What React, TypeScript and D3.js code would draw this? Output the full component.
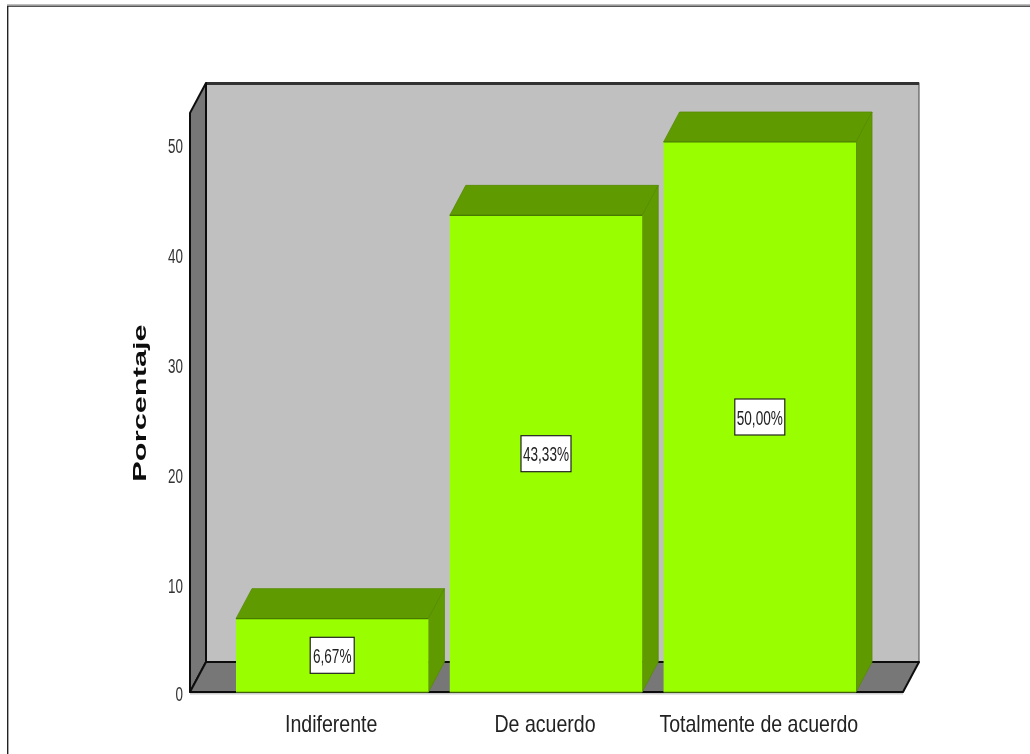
import React from "react";
import * as d3 from "d3";

const categories = ["Indiferente", "De acuerdo", "Totalmente de acuerdo"];
const percentages = [6.67, 43.33, 50.0];
const valueLabels = ["6,67%", "43,33%", "50,00%"];
const yTicks = [0, 10, 20, 30, 40, 50];
const yTickOffsets = [9, 11, 11, 11, 11, 11];

const W = 1030, H = 754;
const DX = 16, DY = 30;
const FONT = "'Liberation Sans', Arial, sans-serif";

const y = d3.scaleLinear().domain([0, 50]).range([692, 142]);
const x = d3.scaleBand<string>().domain(categories).range([236, 856]).paddingInner(0.1);
const poly = d3.line<[number, number]>().curve(d3.curveLinearClosed);

function Squeezed({ x: tx, y: ty, size, sx, anchor, weight, fill = "#222", children }: any) {
  return (
    <text
      transform={`translate(${tx},${ty}) scale(${sx},1)`}
      textAnchor={anchor}
      fontFamily={FONT}
      fontSize={size}
      fontWeight={weight}
      fill={fill}
    >
      {children}
    </text>
  );
}

export default function App() {
  const left = 190, right = 903, top = 113, base = y(0);
  return (
    <svg
      width={W}
      height={H}
      viewBox={`0 0 ${W} ${H}`}
      style={{ position: "absolute", left: 0, top: 0, background: "#fff" }}
    >
      <defs>
        <filter id="soft" x="0" y="0" width="100%" height="100%">
          <feGaussianBlur stdDeviation="0.45" />
        </filter>
      </defs>
      <g filter="url(#soft)">
        {/* outer frame */}
        <rect x={7} y={4} width={W - 7} height={1.5} fill="#bdbdbd" />
        <rect x={7} y={5.5} width={W - 7} height={1.5} fill="#555" />
        <rect x={7} y={6} width={1.4} height={H - 6} fill="#222" />

        {/* back wall */}
        <rect x={left + DX} y={top - DY} width={right - left} height={base - top} fill="#c0c0c0" stroke="#444" strokeWidth={1} />
        <rect x={left + DX} y={top - DY - 1} width={right - left} height={3} fill="#333" />
        {/* side wall */}
        <path
          d={poly([[left, top], [left + DX, top - DY], [left + DX, base - DY], [left, base]])!}
          fill="#777"
          stroke="#111"
          strokeWidth={2}
          strokeLinejoin="round"
        />
        {/* floor */}
        <path
          d={poly([[left, base], [left + DX, base - DY], [right + DX, base - DY], [right, base]])!}
          fill="#777"
          stroke="#111"
          strokeWidth={2}
          strokeLinejoin="round"
        />
        <rect x={left} y={base + 1} width={right - left} height={1.5} fill="#ccc" />

        {/* tick labels */}
        {yTicks.map((t, i) => (
          <Squeezed key={t} x={183} y={y(t) + yTickOffsets[i]} size={21} sx={0.64} anchor="end" fill="#333">
            {t}
          </Squeezed>
        ))}

        {/* bars */}
        {categories.map((c, i) => {
          const x0 = x(c)!;
          const x1 = x0 + x.bandwidth();
          const yt = y(percentages[i]);
          return (
            <g key={c}>
              <path
                d={poly([[x0, yt], [x0 + DX, yt - DY], [x1 + DX, yt - DY], [x1, yt]])!}
                fill="#5f9b00"
                stroke="#558c00"
                strokeWidth={0.8}
              />
              <path
                d={poly([[x1, yt], [x1 + DX, yt - DY], [x1 + DX, base - DY], [x1, base]])!}
                fill="#5f9b00"
                stroke="#558c00"
                strokeWidth={0.8}
              />
              <rect x={x0} y={yt} width={x.bandwidth()} height={base - yt} fill="#99ff00" />
              <line x1={x0} x2={x1} y1={yt} y2={yt} stroke="#4a7a00" strokeWidth={1.2} />
              <line x1={x0} x2={x1} y1={base} y2={base} stroke="#6fb000" strokeWidth={1.2} />
            </g>
          );
        })}

        {/* value labels */}
        {categories.map((c, i) => {
          const cx = x(c)! + x.bandwidth() / 2;
          const cy = (y(percentages[i]) + base) / 2;
          const w = i === 0 ? 44 : 50;
          return (
            <g key={c}>
              <rect x={cx - w / 2} y={cy - 18} width={w} height={36} fill="#fff" stroke="#222" strokeWidth={1.2} />
              <Squeezed x={cx} y={cy + 7.5} size={20} sx={0.68} anchor="middle">
                {valueLabels[i]}
              </Squeezed>
            </g>
          );
        })}

        {/* category labels */}
        {categories.map((c) => (
          <Squeezed key={c} x={x(c)! + x.bandwidth() / 2 - 1} y={732} size={24} sx={0.815} anchor="middle">
            {c}
          </Squeezed>
        ))}

        {/* axis title */}
        <text
          transform="translate(146,403) rotate(-90) scale(1.62,1)"
          textAnchor="middle"
          fontFamily={FONT}
          fontSize={19}
          fontWeight="bold"
          fill="#111"
        >
          Porcentaje
        </text>
      </g>
    </svg>
  );
}
